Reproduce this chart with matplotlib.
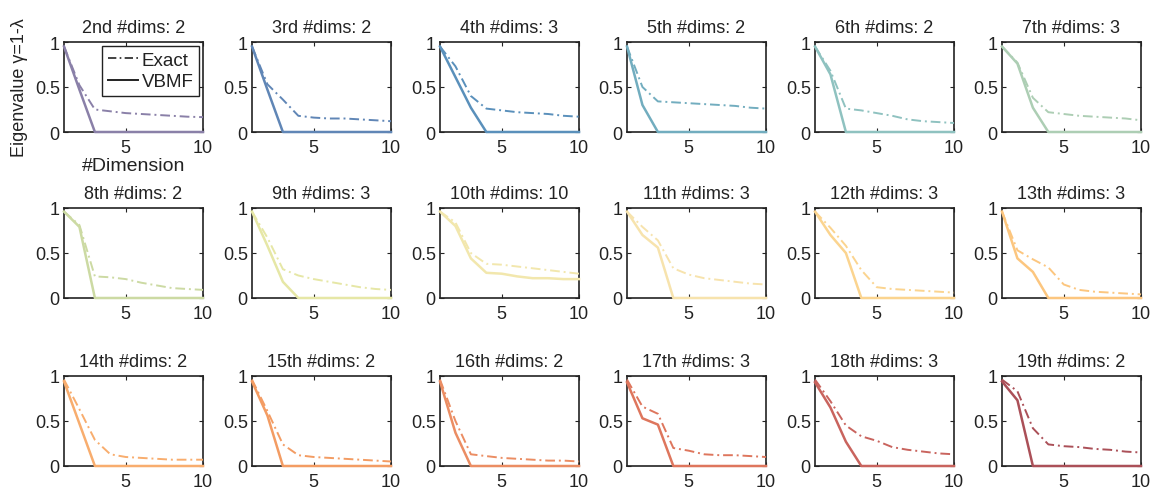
import matplotlib
matplotlib.use("Agg")
import matplotlib.pyplot as plt
import numpy as np

plt.rcParams['font.family'] = ['Liberation Sans', 'DejaVu Sans']

dims_x = [1, 2, 3, 4, 5, 6, 7, 8, 9, 10]
ordinals = ["2nd", "3rd", "4th", "5th", "6th", "7th", "8th", "9th", "10th",
            "11th", "12th", "13th", "14th", "15th", "16th", "17th", "18th", "19th"]
num_dims = [2, 2, 3, 2, 2, 3, 2, 3, 10, 3, 3, 3, 2, 2, 2, 3, 3, 2]

exact = [
    [0.95, 0.52, 0.25, 0.23, 0.21, 0.20, 0.19, 0.18, 0.17, 0.165],
    [0.95, 0.53, 0.36, 0.18, 0.16, 0.15, 0.15, 0.14, 0.13, 0.12],
    [0.95, 0.73, 0.40, 0.26, 0.24, 0.22, 0.21, 0.20, 0.18, 0.17],
    [0.95, 0.50, 0.34, 0.33, 0.32, 0.31, 0.30, 0.29, 0.27, 0.26],
    [0.95, 0.68, 0.26, 0.24, 0.21, 0.18, 0.14, 0.12, 0.11, 0.10],
    [0.95, 0.77, 0.38, 0.22, 0.20, 0.18, 0.17, 0.16, 0.15, 0.13],
    [0.96, 0.81, 0.24, 0.23, 0.21, 0.17, 0.14, 0.11, 0.10, 0.09],
    [0.96, 0.67, 0.32, 0.25, 0.21, 0.18, 0.15, 0.12, 0.10, 0.09],
    [0.96, 0.84, 0.50, 0.38, 0.37, 0.35, 0.33, 0.31, 0.29, 0.27],
    [0.96, 0.79, 0.64, 0.33, 0.26, 0.22, 0.20, 0.18, 0.16, 0.15],
    [0.96, 0.78, 0.58, 0.31, 0.12, 0.10, 0.09, 0.08, 0.07, 0.06],
    [0.96, 0.53, 0.43, 0.34, 0.15, 0.09, 0.07, 0.06, 0.05, 0.04],
    [0.96, 0.63, 0.29, 0.13, 0.10, 0.09, 0.08, 0.07, 0.07, 0.07],
    [0.96, 0.61, 0.24, 0.12, 0.10, 0.09, 0.08, 0.07, 0.06, 0.05],
    [0.96, 0.50, 0.13, 0.11, 0.09, 0.08, 0.07, 0.06, 0.06, 0.05],
    [0.96, 0.66, 0.58, 0.20, 0.17, 0.13, 0.12, 0.12, 0.11, 0.10],
    [0.96, 0.72, 0.45, 0.33, 0.28, 0.21, 0.18, 0.16, 0.14, 0.13],
    [0.96, 0.83, 0.42, 0.24, 0.22, 0.21, 0.19, 0.18, 0.16, 0.15],
]

vbmf = [
    [0.95, 0.47, 0, 0, 0, 0, 0, 0, 0, 0],
    [0.95, 0.47, 0, 0, 0, 0, 0, 0, 0, 0],
    [0.95, 0.61, 0.27, 0, 0, 0, 0, 0, 0, 0],
    [0.95, 0.30, 0, 0, 0, 0, 0, 0, 0, 0],
    [0.95, 0.64, 0, 0, 0, 0, 0, 0, 0, 0],
    [0.95, 0.76, 0.27, 0, 0, 0, 0, 0, 0, 0],
    [0.96, 0.79, 0, 0, 0, 0, 0, 0, 0, 0],
    [0.96, 0.58, 0.18, 0, 0, 0, 0, 0, 0, 0],
    [0.96, 0.80, 0.44, 0.28, 0.27, 0.24, 0.22, 0.22, 0.21, 0.21],
    [0.96, 0.70, 0.56, 0, 0, 0, 0, 0, 0, 0],
    [0.96, 0.70, 0.50, 0, 0, 0, 0, 0, 0, 0],
    [0.96, 0.44, 0.29, 0, 0, 0, 0, 0, 0, 0],
    [0.94, 0.47, 0, 0, 0, 0, 0, 0, 0, 0],
    [0.94, 0.56, 0, 0, 0, 0, 0, 0, 0, 0],
    [0.94, 0.37, 0, 0, 0, 0, 0, 0, 0, 0],
    [0.93, 0.53, 0.46, 0, 0, 0, 0, 0, 0, 0],
    [0.93, 0.65, 0.27, 0, 0, 0, 0, 0, 0, 0],
    [0.94, 0.73, 0, 0, 0, 0, 0, 0, 0, 0],
]

colors = ["#8a80a8", "#6086b6", "#5a90bb", "#72adbf", "#8fc2c0", "#adceb4",
          "#ccdaa3", "#e6e7a6", "#f2e7ad", "#f7e3ad", "#fbd48f", "#fcc67f",
          "#f8ad6e", "#f39c63", "#eb8d63", "#de765d", "#c9645e", "#ab5058"]

W, H = 1153, 489
fig = plt.figure(figsize=(W / 100, H / 100), dpi=100)

lefts = [64, 252, 440, 627, 815, 1002]
tops = [43, 209, 377]
aw, ah = 139, 90
txt = '#222222'

for i in range(18):
    r, c = divmod(i, 6)
    ax = fig.add_axes([lefts[c] / W, 1 - (tops[r] + ah) / H, aw / W, ah / H])
    col = colors[i]
    ax.plot(dims_x, exact[i], linestyle='-.', color=col, lw=1.4,
            clip_on=False, zorder=3, dashes=(5, 2, 1, 2))
    ax.plot(dims_x, vbmf[i], linestyle='-', color=col, lw=1.8,
            clip_on=False, zorder=4)
    ax.set_xlim(1, 10)
    ax.set_ylim(0, 1)
    ax.set_xticks([5, 10])
    ax.set_yticks([0, 0.5, 1])
    ax.set_yticklabels(['0', '0.5', '1'])
    ax.tick_params(direction='in', length=3, width=0.8, top=True, right=True,
                   labelsize=13, colors=txt, pad=3)
    ax.tick_params(axis='x', pad=5)
    for s in ax.spines.values():
        s.set_linewidth(1.2)
        s.set_color(txt)
    ax.set_title(f"{ordinals[i]} #dims: {num_dims[i]}", fontsize=13, color=txt, pad=7)
    if i == 0:
        ax.set_xlabel('#Dimension', fontsize=14, color=txt, labelpad=1)
        ax.set_ylabel('Eigenvalue γ=1-λ', fontsize=13, color=txt, labelpad=5)
        h1, = ax.plot([], [], linestyle='-.', color='#222222', lw=1.2, dashes=(5, 2, 1, 2))
        h2, = ax.plot([], [], linestyle='-', color='#222222', lw=1.4)
        leg = ax.legend([h1, h2], ['Exact', 'VBMF'], loc='upper right', fontsize=13.5,
                        fancybox=False, edgecolor=txt, framealpha=1,
                        handlelength=1.6, handletextpad=0.2, borderpad=0.3,
                        labelspacing=0.25, borderaxespad=0.2)
        leg.get_frame().set_linewidth(1.0)
        for t in leg.get_texts():
            t.set_color(txt)

fig.savefig('out.png', dpi=100)
